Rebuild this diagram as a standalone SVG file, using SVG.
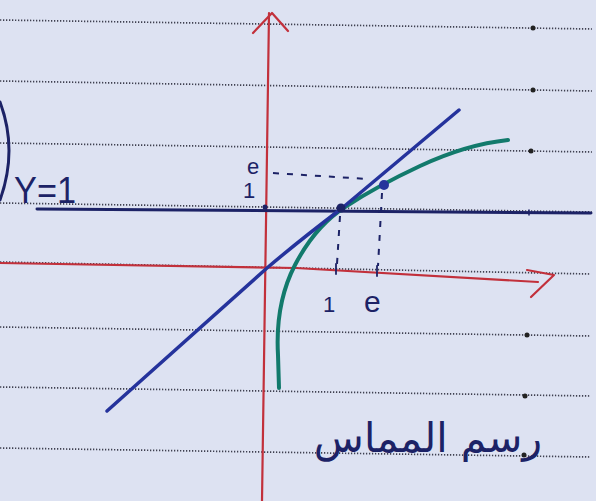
<svg xmlns="http://www.w3.org/2000/svg" width="596" height="501" viewBox="0 0 596 501">
<defs>
<style>
.rule{stroke:#3f4050;stroke-width:1.7;stroke-dasharray:1.3 1.7;fill:none}
.dot{fill:#222}
.red{stroke:#c2303b;stroke-width:2.2;fill:none;stroke-linecap:round;stroke-linejoin:round}
.navy{stroke:#1c2266;fill:none;stroke-linecap:round;stroke-linejoin:round}
.tan{stroke:#25339c;stroke-width:3.5;fill:none;stroke-linecap:round;stroke-linejoin:round}
.green{stroke:#127a6c;stroke-width:4;fill:none;stroke-linecap:round}
.dash{stroke:#1c2266;stroke-width:2;fill:none;stroke-dasharray:6 8}
.hand{font-family:"Liberation Sans","DejaVu Sans",sans-serif;fill:#1c2266}
</style>
</defs>
<rect width="596" height="501" fill="#dde2f2"/>
<g id="paper">
<line class="rule" x1="0" y1="20" x2="592" y2="29"/>
<line class="rule" x1="0" y1="81" x2="592" y2="91"/>
<line class="rule" x1="0" y1="143" x2="592" y2="152"/>
<line class="rule" x1="0" y1="203" x2="592" y2="212"/>
<line class="rule" x1="0" y1="262" x2="590" y2="274"/>
<line class="rule" x1="0" y1="327" x2="590" y2="336"/>
<line class="rule" x1="0" y1="387" x2="590" y2="396"/>
<line class="rule" x1="0" y1="448" x2="590" y2="457"/>
<circle class="dot" cx="533" cy="28" r="2.5"/>
<circle class="dot" cx="533" cy="90" r="2.5"/>
<circle class="dot" cx="531" cy="151" r="2.5"/>
<circle class="dot" cx="527" cy="335" r="2.5"/>
<circle class="dot" cx="525" cy="396" r="2.5"/>
<circle class="dot" cx="524" cy="455" r="2.5"/>
</g>
<g id="paren">
<path class="navy" stroke-width="3" d="M0,102 Q18,150 0,200"/>
</g>
<g id="y-axis">
<line class="red" x1="269" y1="13" x2="262" y2="501"/>
<path class="red" stroke-width="2.8" d="M253,33 L272,13 L288,31"/>
</g>
<g id="x-axis">
<path class="red" d="M0,263 L296,268 L538,282"/>
<path class="red" stroke-width="2.8" d="M527,270 L554,275 L531,297"/>
<line class="navy" stroke-width="1.8" x1="336" y1="264" x2="336" y2="274"/>
<line class="navy" stroke-width="1.8" x1="377" y1="266" x2="377" y2="276"/>
</g>
<g id="line-y1">
<line class="navy" stroke-width="3" x1="37" y1="209" x2="591" y2="213"/>
<circle cx="265" cy="207" r="2.5" fill="#1c2266"/>
<line class="navy" stroke-width="1.5" x1="529" y1="210" x2="529" y2="215"/>
<text class="hand" x="14" y="203" font-size="36" textLength="62" lengthAdjust="spacingAndGlyphs">Y=1</text>
</g>
<g id="curve-ln">
<path class="green" d="M279,388 L278,355 C276,320 282,290 295,265 C308,240 325,220 345,207 C365,194 390,180 420,166 C450,152 480,143 508,140"/>
</g>
<g id="tangent">
<path class="tan" d="M107,411 L267,268 Q300,240 341,209 L459,110"/>
<circle cx="341" cy="208" r="4.5" fill="#1c2266"/>
<circle cx="384" cy="185" r="5" fill="#25339c"/>
</g>
<g id="guides">
<line class="dash" x1="273" y1="173" x2="367" y2="179"/>
<line class="dash" x1="340" y1="216" x2="337" y2="264"/>
<line class="dash" x1="382" y1="193" x2="378" y2="266"/>
</g>
<g id="labels">
<text class="hand" x="247" y="174" font-size="22">e</text>
<text class="hand" x="243" y="198" font-size="22">1</text>
<text class="hand" x="323" y="312" font-size="22">1</text>
<text class="hand" x="364" y="312" font-size="30">e</text>
<text x="428" y="452" font-size="41" text-anchor="middle" font-family="'DejaVu Sans','Noto Sans',sans-serif" fill="#1c2266" direction="rtl">رسم المماس</text>
</g>
</svg>
